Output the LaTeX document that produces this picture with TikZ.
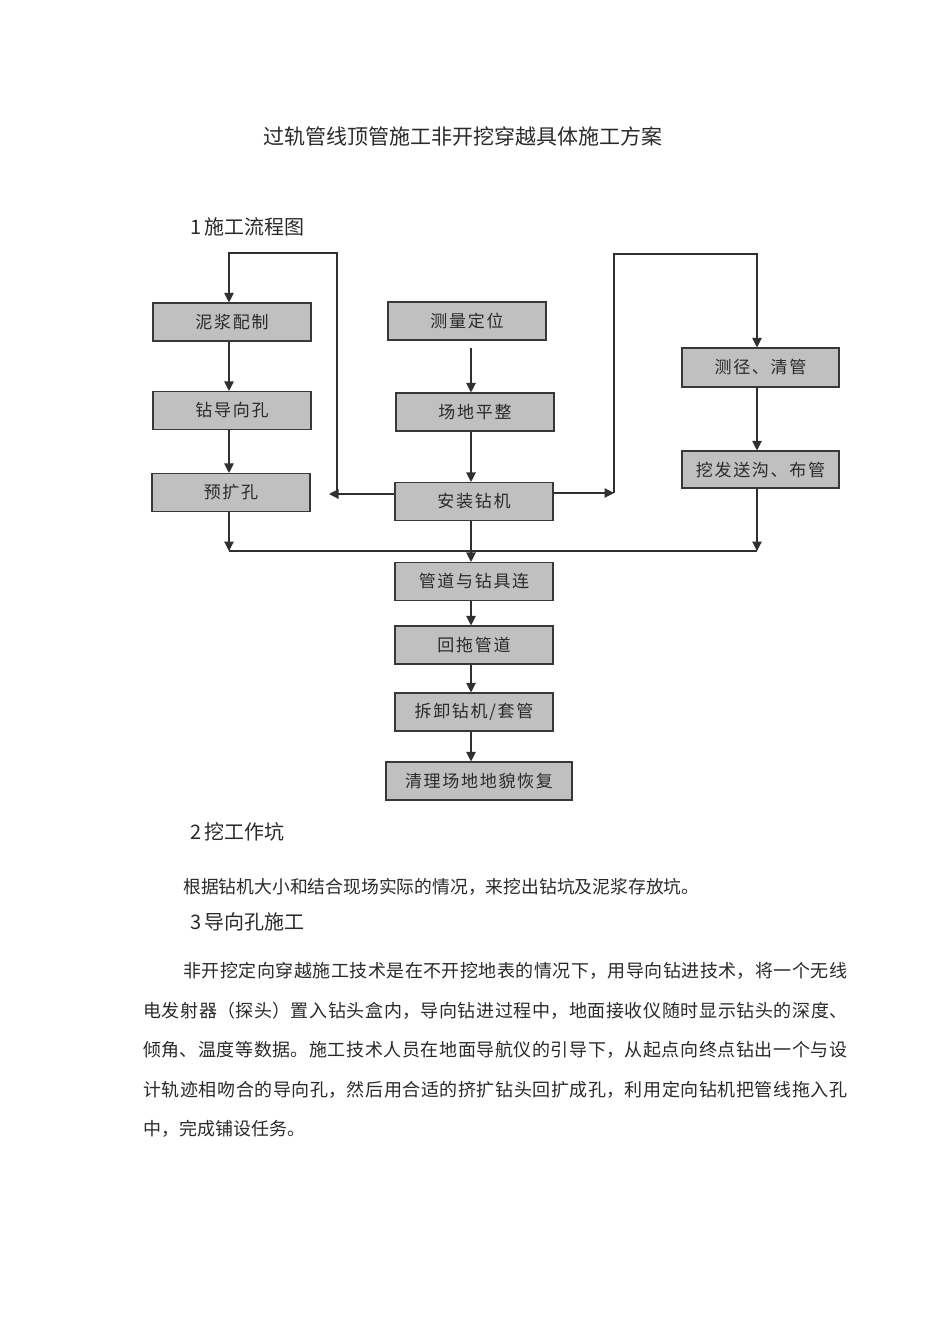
\documentclass[tikz,border=0pt]{standalone}
\usepackage{fontspec}
\setmainfont{Noto Sans CJK SC}
\usetikzlibrary{arrows.meta}
\XeTeXlinebreaklocale "zh"
\XeTeXlinebreakskip=0pt plus 3pt
\definecolor{boxfill}{HTML}{C0C0C0}
\definecolor{boxline}{HTML}{383838}
\definecolor{linec}{HTML}{303030}
\definecolor{txt}{HTML}{2A2A2A}
\begin{document}
\begin{tikzpicture}[x=1pt,y=-1pt,
  box/.style={draw=boxline, fill=boxfill, line width=1.1pt, minimum width=158pt, minimum height=38pt, inner sep=0pt, text=txt, font=\fontsize{17}{17}\selectfont\addfontfeature{LetterSpace=10}},
  link/.style={draw=linec, line width=1.1pt},
  arr/.style={link, -{Triangle[length=9.5pt,width=9.5pt]}},
  plain/.style={anchor=west, inner sep=0pt, text=txt},
  para/.style={anchor=west, inner sep=0pt, text=txt, font=\fontsize{18}{20}\selectfont}]
\fill[white] (0,0) rectangle (950,1344);
\useasboundingbox (0,0) rectangle (950,1344);

% texts
\node[anchor=center, inner sep=0pt, text=txt, font=\fontsize{21}{22}\selectfont] (title) at (463,136) {过轨管线顶管施工非开挖穿越具体施工方案};
\node[plain, font=\fontsize{20}{22}\selectfont] (h1) at (190,227) {1\,施工流程图};

% boxes
\node[box] (mix) at (232,322) {泥浆配制};
\node[box] (guide) at (232,410.5) {钻导向孔};
\node[box] (ream) at (231,492.5) {预扩孔};
\node[box] (survey) at (467,321) {测量定位};
\node[box] (level) at (475,412) {场地平整};
\node[box] (rig) at (474,501.5) {安装钻机};
\node[box] (connect) at (474,581.5) {管道与钻具连};
\node[box] (pull) at (474,645) {回拖管道};
\node[box] (dism) at (474,712) {拆卸钻机/套管};
\node[box, minimum width=186pt] (restore) at (479,781) {清理场地地貌恢复};
\node[box, minimum width=157pt, minimum height=39pt] (clean) at (760.5,367.5) {测径、清管};
\node[box, minimum width=157pt, minimum height=37pt] (trench) at (760.5,469.5) {挖发送沟、布管};

% reference coordinates
\coordinate (L) at (229,0);
\coordinate (C) at (471,0);
\coordinate (R) at (757,0);
\coordinate (lt) at (329,494);
\coordinate (lb) at (337,494);
\coordinate (ltop) at (337,253);
\coordinate (rt) at (614,493);
\coordinate (rtop) at (614,254);
\coordinate (mL) at (229,551);
\coordinate (mR) at (757,551);

% left column
\draw[arr] (mix.south -| L) -- (guide.north -| L);
\draw[arr] (guide.south -| L) -- (ream.north -| L);
\draw[arr] (ream.south -| L) -- (mL);
% left loop
\draw[arr] (rig.west |- lt) -- (lt);
\draw[arr] (lb) -- (ltop) -| (mix.north -| L);
% centre column
\draw[arr, shorten <=7pt] (survey.south -| C) -- (level.north -| C);
\draw[arr] (level.south -| C) -- (rig.north -| C);
\draw[arr] (rig.south -| C) -- (connect.north -| C);
\draw[arr] (connect.south -| C) -- (pull.north -| C);
\draw[arr] (pull.south -| C) -- (dism.north -| C);
\draw[arr] (dism.south -| C) -- (restore.north -| C);
% right loop
\draw[arr] (rig.east |- rt) -- (rt);
\draw[arr] (rt) -- (rtop) -| (clean.north -| R);
\draw[arr] (clean.south -| R) -- (trench.north -| R);
\draw[arr] (trench.south -| R) -- (mR);
% merge line
\draw[link] (mL) -- (mR);

% lower text
\node[plain, font=\fontsize{20}{22}\selectfont] (h2) at (190,832) {2\,挖工作坑};
\node[plain, font=\fontsize{17.8}{20}\selectfont] (p0) at (183,887) {根据钻机大小和结合现场实际的情况，来挖出钻坑及泥浆存放坑。};
\node[plain, font=\fontsize{20}{22}\selectfont] (h3) at (190,922) {3\,导向孔施工};

\node[para] (l1) at (183,971) {\parbox{664pt}{\parfillskip=0pt\noindent 非开挖定向穿越施工技术是在不开挖地表的情况下，用导向钻进技术，将一个无线\par}};
\node[para] (l2) at (143,1010.5) {\parbox{704pt}{\parfillskip=0pt\noindent 电发射器（探头）置入钻头盒内，导向钻进过程中，地面接收仪随时显示钻头的深度、\par}};
\node[para] (l3) at (143,1050) {\parbox{704pt}{\parfillskip=0pt\noindent 倾角、温度等数据。施工技术人员在地面导航仪的引导下，从起点向终点钻出一个与设\par}};
\node[para] (l4) at (143,1089.5) {\parbox{704pt}{\parfillskip=0pt\noindent 计轨迹相吻合的导向孔，然后用合适的挤扩钻头回扩成孔，利用定向钻机把管线拖入孔\par}};
\node[para] (l5) at (143,1129) {中，完成铺设任务。};
\end{tikzpicture}
\end{document}
